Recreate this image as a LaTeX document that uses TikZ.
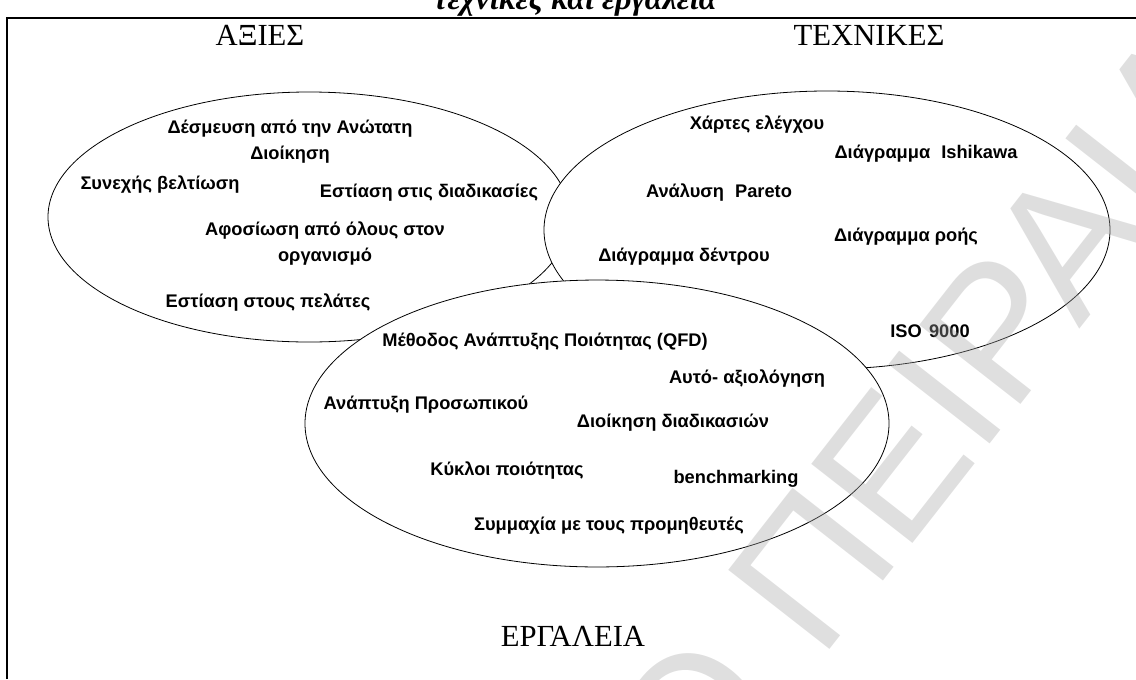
\documentclass[tikz,border=0pt]{standalone}
\usepackage{fontspec}
\setmainfont{Liberation Serif}
\newfontfamily\lab{Liberation Sans}
\begin{document}
\begin{tikzpicture}[x=0.75pt,y=-0.75pt,
  lbl/.style={font=\lab\bfseries\fontsize{13.7}{19.5}\selectfont, inner sep=0, align=center},
  ttl/.style={font=\fontsize{23}{26}\selectfont, inner sep=0},
  ell/.style={draw, line width=0.6pt, fill=white},
  frame/.style={line width=1.5pt},
  wmark/.style={rotate=52, text=gray!70, opacity=0.36, font=\lab\fontsize{140}{140}\selectfont, inner sep=0}]
\useasboundingbox (0,0) rectangle (1136,679);
% title (cut off at top)
\node[font=\bfseries\itshape\fontsize{24}{26}\selectfont, inner sep=0, anchor=base] (title) at (575,9.5) {τεχνικές και εργαλεία};
% frame
\draw[frame] (7,679) -- (7,18) -- (1136,18);
% headings
\node[ttl] (axies) at (260,35) {ΑΞΙΕΣ};
\node[ttl] (texnikes) at (869,35) {ΤΕΧΝΙΚΕΣ};
\node[ttl] (ergaleia) at (573,636) {ΕΡΓΑΛΕΙΑ};
% left ellipse
\draw[ell] (309,217) ellipse [x radius=195.75pt, y radius=93.75pt];
\node[lbl] (a1) at (290,142) {Δέσμευση από την Ανώτατη\\Διοίκηση};
\node[lbl] (a2) at (160,185) {Συνεχής βελτίωση};
\node[lbl] (a3) at (429,193) {Εστίαση στις διαδικασίες};
\node[lbl] (a4) at (325,244) {Αφοσίωση από όλους στον\\οργανισμό};
\node[lbl] (a5) at (268,303) {Εστίαση στους πελάτες};
% right ellipse
\draw[ell] (827,230) ellipse [x radius=212.25pt, y radius=104.25pt];
\node[lbl] (t1) at (757,125) {Χάρτες ελέγχου};
\node[lbl] (t2) at (926,154) {Διάγραμμα\hspace{0.6em}Ishikawa};
\node[lbl] (t3) at (719,193) {Ανάλυση\hspace{0.6em}Pareto};
\node[lbl] (t4) at (906,237) {Διάγραμμα ροής};
\node[lbl] (t5) at (684,257) {Διάγραμμα δέντρου};
\node[lbl] (t6) at (930,331) {ISO\hspace{0.4em}9000};
% bottom ellipse
\draw[ell] (597,423.5) ellipse [x radius=219pt, y radius=107.6pt];
\node[lbl] (e1) at (545,342) {Μέθοδος Ανάπτυξης Ποιότητας (QFD)};
\node[lbl] (e2) at (747,379) {Αυτό- αξιολόγηση};
\node[lbl] (e3) at (426,405) {Ανάπτυξη Προσωπικού};
\node[lbl] (e4) at (673,423) {Διοίκηση διαδικασιών};
\node[lbl] (e5) at (507,471) {Κύκλοι ποιότητας};
\node[lbl] (e6) at (736,479) {benchmarking};
\node[lbl] (e7) at (609,526) {Συμμαχία με τους προμηθευτές};
% watermark
\node[wmark, anchor=base west] (wm2) at (820,662) {ΠΕΙΡΑΙΑ};
\node[wmark, anchor=base east] (wm1) at (788,703) {ΠΑΝΕΠΙΣΤΗΜΙΟ};
\end{tikzpicture}
\end{document}
